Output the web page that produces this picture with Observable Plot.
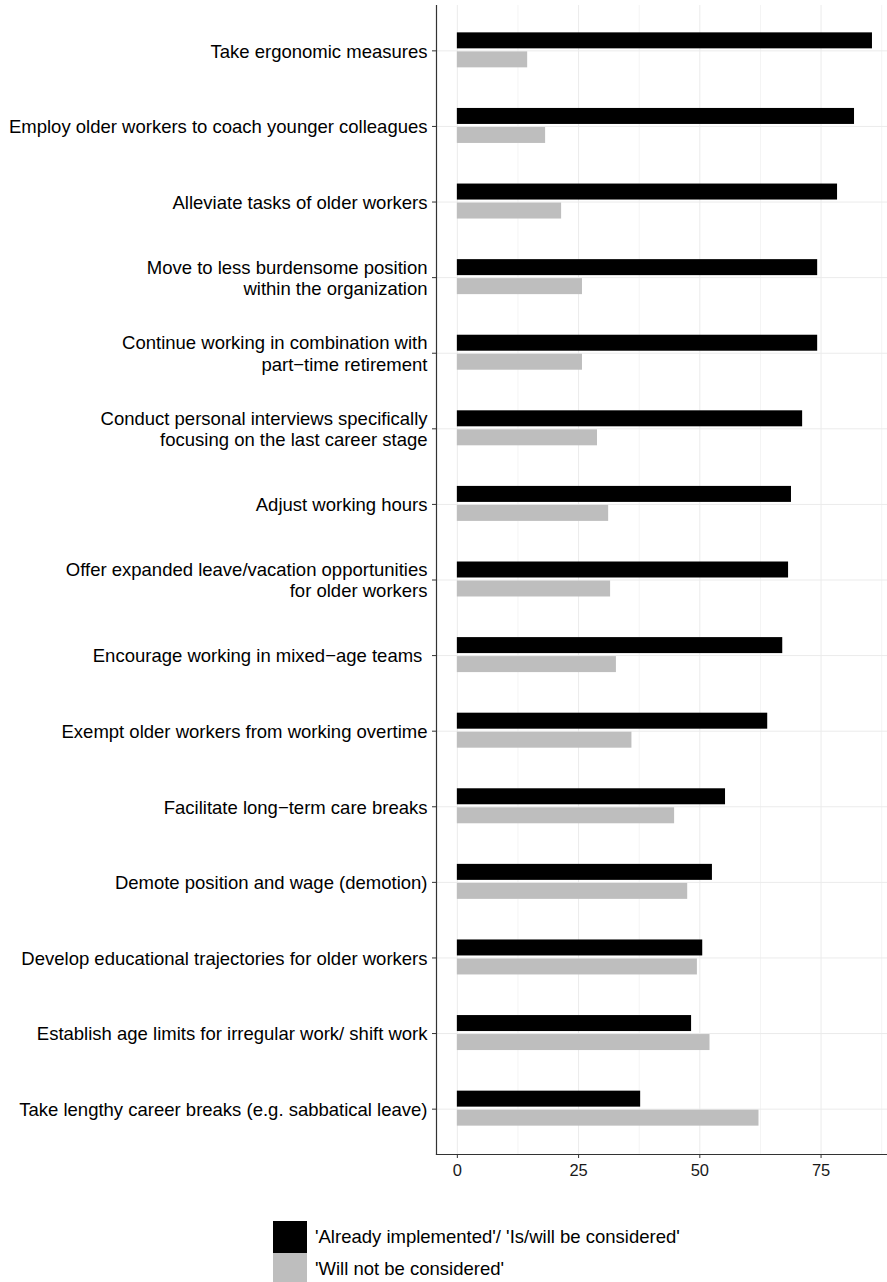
<!DOCTYPE html>
<html>
<head>
<meta charset="utf-8">
<script src="https://cdn.jsdelivr.net/npm/d3@7"></script>
<script src="https://cdn.jsdelivr.net/npm/@observablehq/plot@0.6"></script>
<style>
  html, body { margin: 0; padding: 0; background: #fff; }
  #wrap { width: 887px; position: relative; font-family: "Liberation Sans", Arial, sans-serif; }
  #legend { position: relative; height: 82px; }
  .item { position: absolute; left: 273px; display: flex; align-items: center; font-size: 18.5px; color: #000; }
  .key { width: 34px; height: 32px; margin-right: 8px; }
</style>
</head>
<body>
<div id="wrap">
  <div id="chart"></div>
  <div id="legend"></div>
</div>
<script>
const categories = [
  "Take ergonomic measures",
  "Employ older workers to coach younger colleagues",
  "Alleviate tasks of older workers",
  "Move to less burdensome position\nwithin the organization",
  "Continue working in combination with\npart\u2212time retirement",
  "Conduct personal interviews specifically\nfocusing on the last career stage",
  "Adjust working hours",
  "Offer expanded leave/vacation opportunities\nfor older workers",
  "Encourage working in mixed\u2212age teams\u00a0",
  "Exempt older workers from working overtime",
  "Facilitate long\u2212term care breaks",
  "Demote position and wage (demotion)",
  "Develop educational trajectories for older workers",
  "Establish age limits for irregular work/ shift work",
  "Take lengthy career breaks (e.g. sabbatical leave)"
];
const implemented   = [85.6, 81.9, 78.4, 74.3, 74.3, 71.2, 68.9, 68.3, 67.1, 64.0, 55.3, 52.6, 50.6, 48.3, 37.8];
const notConsidered = [14.5, 18.2, 21.5, 25.8, 25.8, 28.9, 31.2, 31.6, 32.8, 36.0, 44.8, 47.5, 49.5, 52.1, 62.2];
const seriesNames = ["'Already implemented'/ 'Is/will be considered'", "'Will not be considered'"];
const seriesColors = ["#000000", "#bebebe"];
const xTicks = [0, 25, 50, 75];
const xMinorTicks = [12.5, 37.5, 62.5, 87.5];

const implRows = categories.map((c, i) => ({category: c, value: implemented[i]}));
const notRows = categories.map((c, i) => ({category: c, value: notConsidered[i]}));

const chart = Plot.plot({
  width: 887,
  height: 1200,
  marginLeft: 436,
  marginRight: 0,
  marginTop: 5,
  marginBottom: 46,
  style: {fontFamily: "'Liberation Sans', Arial, sans-serif", background: "#fff", color: "#000"},
  x: {domain: [-4.3, 88.7], label: null},
  y: {domain: categories, paddingInner: 0, paddingOuter: 0.1, round: false, label: null},
  marks: [
    Plot.ruleX(xMinorTicks, {stroke: "#f4f4f4", strokeWidth: 1}),
    Plot.ruleX(xTicks, {stroke: "#ebebeb", strokeWidth: 1}),
    Plot.gridY({stroke: "#ebebeb", strokeOpacity: 1, strokeWidth: 1}),
    Plot.barX(implRows, {y: "category", x1: 0, x2: "value", fill: seriesColors[0], insetTop: 19.8, insetBottom: 39.8}),
    Plot.barX(notRows, {y: "category", x1: 0, x2: "value", fill: seriesColors[1], insetTop: 38.8, insetBottom: 20.8}),
    Plot.frame({anchor: "left", stroke: "#333", strokeWidth: 1.2}),
    Plot.frame({anchor: "bottom", stroke: "#333", strokeWidth: 1.2}),
    Plot.axisY({tickSize: 4, tickPadding: 5, fontSize: 18.5, lineHeight: 1.15, stroke: "#333", fill: "#000", label: null}),
    Plot.axisX({ticks: xTicks, tickSize: 4, tickPadding: 6, fontSize: 16.5, stroke: "#333", fill: "#1a1a1a", tickFormat: d => String(d), label: null})
  ]
});
document.getElementById("chart").appendChild(chart);

const legend = document.getElementById("legend");
seriesNames.forEach((name, i) => {
  const item = document.createElement("div");
  item.className = "item";
  item.style.top = (21 + i * 32) + "px";
  const key = document.createElement("div");
  key.className = "key";
  key.style.background = seriesColors[i];
  const label = document.createElement("span");
  label.textContent = name;
  item.appendChild(key);
  item.appendChild(label);
  legend.appendChild(item);
});
</script>
</body>
</html>
